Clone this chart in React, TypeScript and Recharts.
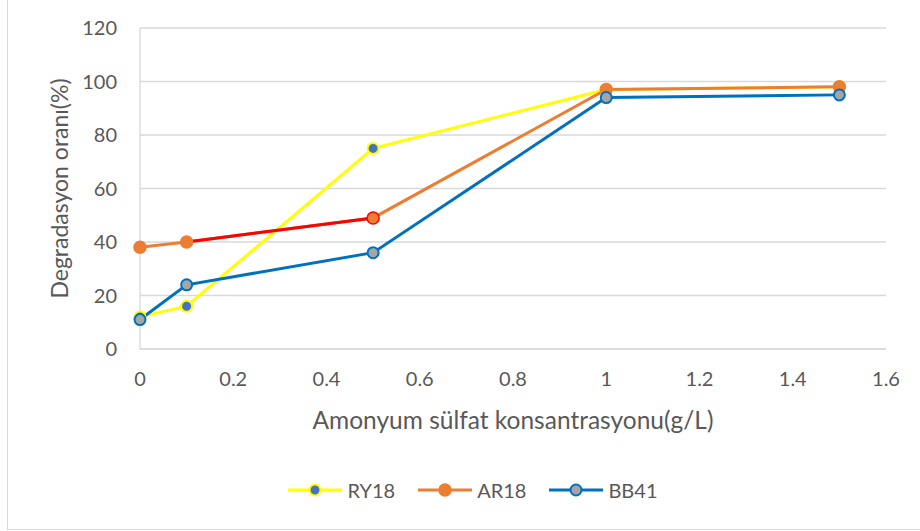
import React from 'react';
import { LineChart, Line, XAxis, YAxis, CartesianGrid } from 'recharts';

const xValues = [0, 0.1, 0.5, 1, 1.5];
const ry18 = [12, 16, 75, 97, 98];
const ar18 = [38, 40, 49, 97, 98];
const bb41 = [11, 24, 36, 94, 95];
const ar18RedFrom = 1;
const ar18RedTo = 2;
const xTicks = [0, 0.2, 0.4, 0.6, 0.8, 1, 1.2, 1.4, 1.6];
const yTicks = [0, 20, 40, 60, 80, 100, 120];
const seriesNames = ['RY18', 'AR18', 'BB41'];
const xTitle = 'Amonyum sülfat konsantrasyonu(g/L)';
const yTitle = 'Degradasyon oranı(%)';

const data = xValues.map((x, i) => ({
  x,
  ry18: ry18[i],
  ar18: ar18[i],
  ar18Red: i >= ar18RedFrom && i <= ar18RedTo ? ar18[i] : null,
  bb41: bb41[i],
}));

const FONT = 'Lato, "Open Sans", sans-serif';
const TXT = '#595959';
const GRID = '#d9d9d9';
const YELLOW = '#FFFF00';
const DOTBLUE = '#4472C4';
const ORANGE = '#ED7D31';
const RED = '#FF0000';
const BLUE = '#0070C0';
const GREY = '#A5A5A5';

const styles = [
  { line: YELLOW, fill: DOTBLUE, stroke: YELLOW, r: 5.5, sw: 2 },
  { line: ORANGE, fill: ORANGE, stroke: ORANGE, r: 6, sw: 1.5 },
  { line: BLUE, fill: GREY, stroke: BLUE, r: 5.5, sw: 2 },
];

const makeDot = (s: any, highlight?: number) => (p: any) => {
  if (p.value == null || p.cx == null) return <g key={p.index} />;
  const stroke = highlight !== undefined && p.index === highlight ? RED : s.stroke;
  return (
    <circle key={p.index} cx={p.cx} cy={p.cy} r={s.r} fill={s.fill} stroke={stroke} strokeWidth={s.sw} />
  );
};

export default function App() {
  return (
    <div
      style={{
        position: 'absolute',
        left: 7,
        top: -1,
        width: 913,
        height: 529,
        border: '1px solid #d9d9d9',
        background: '#fff',
        fontFamily: FONT,
      }}
    >
      <LineChart width={913} height={529} data={data} margin={{ top: 28, right: 35, bottom: 0, left: 0 }}>
        <CartesianGrid vertical={false} stroke={GRID} strokeWidth={1.3} />
        <XAxis
          dataKey="x"
          type="number"
          domain={[0, 1.6]}
          ticks={xTicks}
          height={180}
          tickLine={false}
          tickSize={0}
          tickMargin={23}
          axisLine={{ stroke: GRID, strokeWidth: 1.3 }}
          tick={{ fill: TXT, fontSize: 20, fontFamily: FONT }}
          label={(p: any) => {
            const vb = p.viewBox;
            return (
              <text
                x={vb.x + vb.width / 2}
                y={vb.y + 70}
                textAnchor="middle"
                dominantBaseline="central"
                fill={TXT}
                fontSize={24.5}
                fontFamily={FONT}
              >
                {xTitle}
              </text>
            );
          }}
        />
        <YAxis
          type="number"
          domain={[0, 120]}
          ticks={yTicks}
          width={132}
          tickLine={false}
          tickSize={0}
          tickMargin={23}
          axisLine={{ stroke: GRID, strokeWidth: 1.3 }}
          tick={{ fill: TXT, fontSize: 20, fontFamily: FONT }}
          label={(p: any) => {
            const vb = p.viewBox;
            const cx = 51;
            const cy = vb.y + vb.height / 2;
            return (
              <text
                x={cx}
                y={cy}
                transform={`rotate(-90 ${cx} ${cy})`}
                textAnchor="middle"
                dominantBaseline="central"
                fill={TXT}
                fontSize={23}
                fontFamily={FONT}
              >
                {yTitle}
              </text>
            );
          }}
        />
        <Line
          dataKey="ry18"
          name={seriesNames[0]}
          stroke={YELLOW}
          strokeWidth={3}
          dot={makeDot(styles[0])}
          isAnimationActive={false}
        />
        <Line dataKey="ar18" name={seriesNames[1]} stroke={ORANGE} strokeWidth={3} dot={false} isAnimationActive={false} />
        <Line
          dataKey="ar18Red"
          legendType="none"
          stroke={RED}
          strokeWidth={3}
          dot={false}
          connectNulls={false}
          isAnimationActive={false}
        />
        <Line
          dataKey="ar18"
          legendType="none"
          stroke="none"
          dot={makeDot(styles[1], ar18RedTo)}
          isAnimationActive={false}
        />
        <Line
          dataKey="bb41"
          name={seriesNames[2]}
          stroke={BLUE}
          strokeWidth={3}
          dot={makeDot(styles[2])}
          isAnimationActive={false}
        />
      </LineChart>
      <div
        style={{
          position: 'absolute',
          top: 478,
          left: 0,
          width: 930,
          height: 24,
          display: 'flex',
          justifyContent: 'center',
          alignItems: 'center',
          gap: 23,
          color: TXT,
          fontSize: 20,
          fontFamily: FONT,
        }}
      >
        {seriesNames.map((n, i) => {
          const s = styles[i];
          return (
            <div key={n} style={{ display: 'flex', alignItems: 'center', gap: 5 }}>
              <svg width={54} height={16}>
                <line x1={0} y1={8} x2={54} y2={8} stroke={s.line} strokeWidth={3} />
                <circle cx={27} cy={8} r={s.r} fill={s.fill} stroke={s.stroke} strokeWidth={s.sw} />
              </svg>
              <span>{n}</span>
            </div>
          );
        })}
      </div>
    </div>
  );
}
